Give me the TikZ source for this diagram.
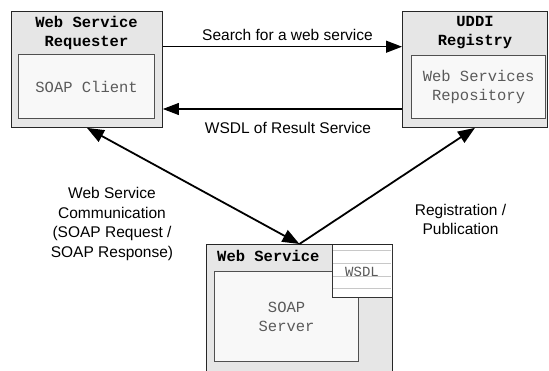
\documentclass[tikz,border=0pt]{standalone}
\usepackage{fontspec}
\setmainfont{Liberation Sans}
\newfontfamily\codefont{Liberation Mono}
\usetikzlibrary{arrows.meta}
\definecolor{outerfill}{HTML}{E6E6E6}
\definecolor{innerfill}{HTML}{F8F8F8}
\definecolor{innerline}{HTML}{505050}
\definecolor{codegray}{HTML}{5A5A5A}
\definecolor{ruleline}{HTML}{C8C8C8}
\tikzset{
  x=1pt, y=-1pt,
  outerbox/.style={draw=black!85, line width=0.9pt, fill=outerfill, anchor=north west, inner sep=0pt},
  innerbox/.style={draw=innerline, line width=1.2pt, fill=innerfill, anchor=north west, inner sep=0pt},
  boxtitle/.style={font=\codefont\bfseries\fontsize{15.5}{19}\selectfont, align=center, inner sep=0pt},
  boxtext/.style={font=\codefont\fontsize{15.5}{19}\selectfont, text=codegray, align=center, inner sep=0pt},
  flowlabel/.style={font=\fontsize{15.5}{19.5}\selectfont, align=center, inner sep=0pt},
  msg/.style={-{Triangle[length=16pt,width=12pt]}, line width=1.1pt},
  link/.style={line width=1.8pt},
}
\begin{document}
\begin{tikzpicture}
\useasboundingbox (0,0) rectangle (549,370);
\begin{scope}
\clip (0,0) rectangle (549,370);

% requester
\node[outerbox, minimum width=151pt, minimum height=116pt] (req) at (11,11) {};
\node[innerbox, minimum width=136pt, minimum height=64pt] (client) at (18,54) {};
\node[boxtitle] (reqtitle) at (86.5,32.5) {Web Service\\Requester};
\node[boxtext] (clienttext) at (client.center) {SOAP Client};

% registry
\node[outerbox, minimum width=145pt, minimum height=116pt] (uddi) at (402,11) {};
\node[innerbox, minimum width=134pt, minimum height=63pt] (repo) at (411,55) {};
\node[boxtitle] (uddititle) at (475,32.5) {UDDI\\Registry};
\node[boxtext] (repotext) at (repo.center) {Web Services\\Repository};

% web service provider
\node[outerbox, minimum width=186pt, minimum height=140pt] (ws) at (206,244) {};
\node[innerbox, minimum width=144pt, minimum height=90pt] (server) at (214,271) {};
\node[boxtitle, anchor=west] (wstitle) at (217,256) {Web Service};
\node[boxtext] (servertext) at (server.center) {SOAP\\Server};

% WSDL sheet
\node[draw=black!80, line width=0.9pt, fill=white, anchor=north west, inner sep=0pt,
      minimum width=60pt, minimum height=53pt] (wsdl) at (332,244) {};
\foreach \ry in {250.7,263.5,276.7,288.3}
  \draw[ruleline, line width=0.8pt] (332.6,\ry) -- (391.4,\ry);
\node[draw=black!80, line width=0.9pt, anchor=north west, inner sep=0pt,
      minimum width=60pt, minimum height=53pt] (wsdlframe) at (332,244) {};
\node[boxtext, font=\codefont\fontsize{14}{17}\selectfont] (wsdltext) at (362,272) {WSDL};
\draw[black!85, line width=0.9pt] (ws.north west) -- (ws.north east);
\end{scope}

% messages between requester and registry
\draw[msg] ([yshift=-35.7pt]req.north east) -- ([yshift=-35.7pt]uddi.north west);
\draw[msg] ([yshift=-98pt]uddi.north west) -- ([yshift=-98pt]req.north east);
\node[flowlabel] (searchlbl) at (287.5,35) {Search for a web service};
\node[flowlabel] (wsdllbl) at (288,128) {WSDL of Result Service};

% links to the web service
\draw[link, {Triangle[length=17pt,width=13pt]}-{Triangle[length=17pt,width=13pt]}] (req.south) -- (ws.north);
\draw[link, -{Triangle[length=17pt,width=13pt]}] (ws.north) -- (uddi.south);
\node[flowlabel] (commlbl) at (112,224) {Web Service\\Communication\\(SOAP Request /\\SOAP Response)};
\node[flowlabel] (reglbl) at (460.5,219.5) {Registration /\\Publication};
\end{tikzpicture}
\end{document}
